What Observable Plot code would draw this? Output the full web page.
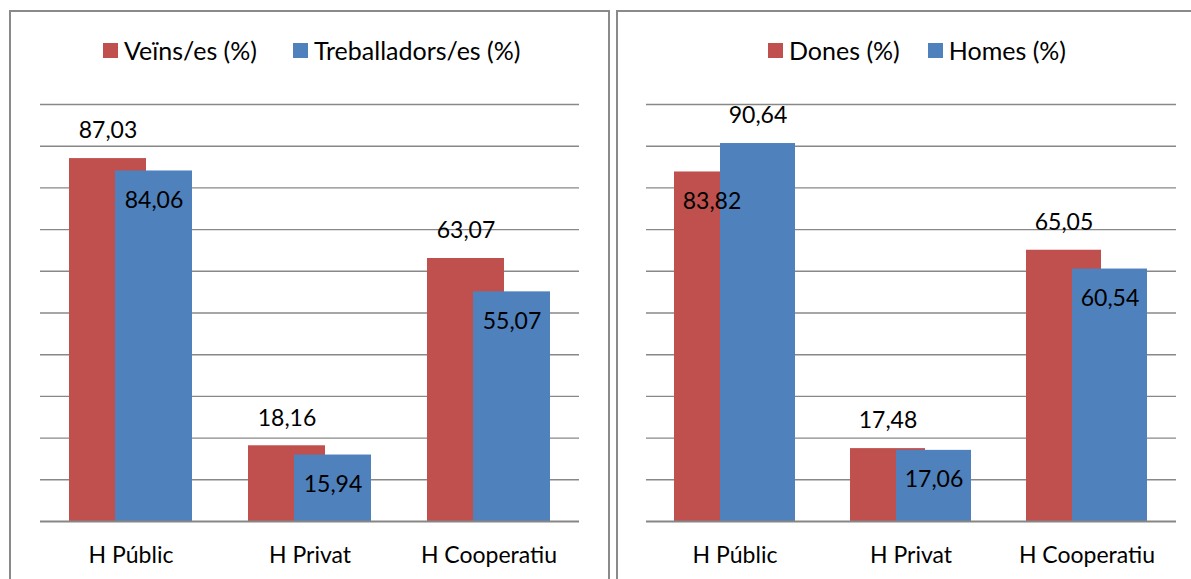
<!DOCTYPE html>
<html>
<head>
<meta charset="utf-8">
<script src="https://cdn.jsdelivr.net/npm/d3@7"></script>
<script src="https://cdn.jsdelivr.net/npm/@observablehq/plot@0.6"></script>
<style>
  html, body { margin: 0; padding: 0; background: #fff; overflow: hidden; }
  body { width: 1191px; height: 579px; position: relative; font-family: Lato, "Open Sans", sans-serif; }
  .panel { position: absolute; top: 10px; height: 640px; box-sizing: border-box;
           border-top: 2px solid #8a8a8a; border-left: 2px solid #8a8a8a; }
  .legend { position: absolute; display: flex; align-items: center; font-size: 25px; color: #000; white-space: nowrap; }
  .legend .item { display: flex; align-items: center; }
  .legend .sw { width: 15px; height: 15px; margin-right: 6px; }
  .chart { position: absolute; }
</style>
</head>
<body>
<script>
// ---- data ----
const categories = ["H Públic", "H Privat", "H Cooperatiu"];
const leftNames = ["Veïns/es (%)", "Treballadors/es (%)"];
const veins = [87.03, 18.16, 63.07];
const treballadors = [84.06, 15.94, 55.07];
const rightNames = ["Dones (%)", "Homes (%)"];
const dones = [83.82, 17.48, 65.05];
const homes = [90.64, 17.06, 60.54];

const RED = "#C0504D";
const BLUE = "#4F81BD";

function fmt(v) { return v.toFixed(2).replace(".", ","); }

function panel(cfg) {
  const {left, width, borderRight, legendLeft, legendGap, names, a, b, svgWidth, mLeft, mRight} = cfg;
  const p = document.createElement("div");
  p.className = "panel";
  p.style.left = left + "px";
  p.style.width = width + "px";
  if (borderRight) p.style.borderRight = "2px solid #8a8a8a";
  document.body.appendChild(p);

  const rows = [];
  categories.forEach((c, i) => {
    rows.push({cat: c, v: a[i], other: b[i], series: 0});
    rows.push({cat: c, v: b[i], other: a[i], series: 1});
  });
  const sel = (s, up) => rows.filter(r => r.series === s && (up ? r.v >= r.other : r.v < r.other));

  const textOpts = (dx, dy) => ({x: "cat", y: "v", text: d => fmt(d.v), dx, dy, fontSize: 23, fill: "#000"});
  const chart = Plot.plot({
    width: svgWidth,
    height: 568,
    marginLeft: mLeft,
    marginRight: mRight,
    marginTop: 93,
    marginBottom: 58,
    style: {fontFamily: "Lato, 'Open Sans', sans-serif", background: "transparent", color: "#000"},
    x: {type: "band", domain: categories, paddingInner: 0.572, paddingOuter: 0.286, label: null},
    y: {domain: [0, 100], axis: null},
    marks: [
      Plot.ruleY(d3.range(10, 101, 10), {stroke: "#888888", strokeWidth: 1.4}),
      Plot.barY(rows.filter(r => r.series === 0), {x: "cat", y: "v", fill: RED, dx: -23}),
      Plot.barY(rows.filter(r => r.series === 1), {x: "cat", y: "v", fill: BLUE, dx: 23}),
      Plot.ruleY([0], {stroke: "#868686", strokeWidth: 2}),
      Plot.text(sel(0, true), textOpts(-23, -27.5)),
      Plot.text(sel(0, false), textOpts(-23, 29.5)),
      Plot.text(sel(1, true), textOpts(23, -27.5)),
      Plot.text(sel(1, false), textOpts(23, 29.5)),
      Plot.axisX({tickSize: 0, tickPadding: 25, fontSize: 23, label: null, fill: "#000"})
    ]
  });
  chart.style.left = left + "px";
  chart.style.top = "11px";
  chart.classList.add("chart");
  document.body.appendChild(chart);

  const lg = document.createElement("div");
  lg.className = "legend";
  lg.style.left = legendLeft + "px";
  lg.style.top = "35px";
  names.forEach((n, i) => {
    const it = document.createElement("div");
    it.className = "item";
    if (i > 0) it.style.marginLeft = legendGap + "px";
    const sw = document.createElement("div");
    sw.className = "sw";
    sw.style.background = i === 0 ? RED : BLUE;
    const t = document.createElement("span");
    t.textContent = n;
    it.appendChild(sw); it.appendChild(t);
    lg.appendChild(it);
  });
  document.body.appendChild(lg);
}

panel({left: 9, width: 601, borderRight: true, legendLeft: 103, legendGap: 36,
       names: leftNames, a: veins, b: treballadors, svgWidth: 599, mLeft: 31, mRight: 29});
panel({left: 616, width: 600, borderRight: false, legendLeft: 768, legendGap: 28,
       names: rightNames, a: dones, b: homes, svgWidth: 575, mLeft: 30, mRight: 15});
</script>
</body>
</html>
